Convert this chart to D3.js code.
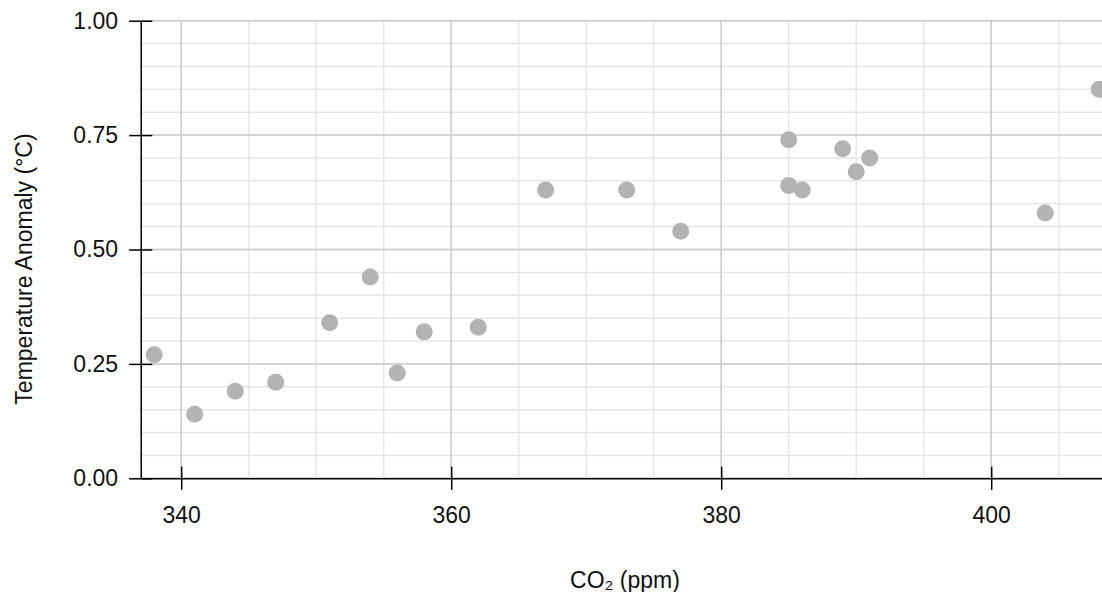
<!DOCTYPE html>
<html lang="en">
<head>
    <meta charset="UTF-8">
    <title>CO2 vs temperature anomaly</title>
    <script src="https://d3js.org/d3.v7.min.js"></script>
    <style>
        body { margin: 0; overflow: hidden; background-color: white; }
        text { font-family: "Liberation Sans", Arial, sans-serif; fill: #111; }
    </style>
</head>
<body>
    <svg id="chart"></svg>

    <script>
        // values
        const co2 = [338, 341, 344, 347, 351, 354, 356, 358, 362, 367,
                     373, 377, 385, 385, 386, 389, 390, 391, 404, 408];
        const anomaly = [0.27, 0.14, 0.19, 0.21, 0.34, 0.44, 0.23, 0.32, 0.33, 0.63,
                         0.63, 0.54, 0.74, 0.64, 0.63, 0.72, 0.67, 0.70, 0.58, 0.85];
        const xTicks = [340, 360, 380, 400];
        const yTicks = [0, 0.25, 0.5, 0.75, 1];
        const xMinor = d3.range(340, 411, 5);
        const yMinor = d3.range(0, 1.001, 0.05);

        const width = 1102;
        const height = 592;
        const plotLeft = 140.7, plotTop = 20.7, plotBottom = 478.3;
        const tick = 11.6;

        const svg = d3.select("#chart")
            .attr("width", width)
            .attr("height", height);

        const x = d3.scaleLinear().domain([337, 410]).range([plotLeft, plotLeft + 73 * 13.5]);
        const y = d3.scaleLinear().domain([0, 1]).range([plotBottom, plotTop]);

        // grid, minor first then major on top
        const grid = svg.append("g");
        grid.selectAll(".vminor")
            .data(xMinor)
            .enter()
            .append("line")
            .attr("x1", d => x(d)).attr("x2", d => x(d))
            .attr("y1", plotTop).attr("y2", plotBottom)
            .attr("stroke", "#e6e6e6")
            .attr("stroke-width", 1.5);
        grid.selectAll(".hminor")
            .data(yMinor)
            .enter()
            .append("line")
            .attr("x1", plotLeft).attr("x2", width)
            .attr("y1", d => y(d)).attr("y2", d => y(d))
            .attr("stroke", "#e6e6e6")
            .attr("stroke-width", 1.5);
        grid.selectAll(".vmajor")
            .data(xTicks)
            .enter()
            .append("line")
            .attr("x1", d => x(d)).attr("x2", d => x(d))
            .attr("y1", plotTop).attr("y2", plotBottom)
            .attr("stroke", "#cccccc")
            .attr("stroke-width", 1.5);
        grid.selectAll(".hmajor")
            .data(yTicks)
            .enter()
            .append("line")
            .attr("x1", plotLeft).attr("x2", width)
            .attr("y1", d => y(d)).attr("y2", d => y(d))
            .attr("stroke", "#cccccc")
            .attr("stroke-width", 1.5);

        // points
        svg.append("g")
            .selectAll("circle")
            .data(co2)
            .enter()
            .append("circle")
            .attr("cx", d => x(d))
            .attr("cy", (d, i) => y(anomaly[i]))
            .attr("r", 8.5)
            .attr("fill", "#b3b3b3");

        // axes, ticks cross the axis line
        const xAxis = svg.append("g")
            .attr("transform", `translate(0,${plotBottom})`)
            .call(d3.axisBottom(x).tickValues(xTicks).tickSizeInner(tick).tickSizeOuter(0).tickPadding(17));
        xAxis.selectAll(".tick line").attr("y1", -tick);

        const yAxis = svg.append("g")
            .attr("transform", `translate(${plotLeft},0)`)
            .call(d3.axisLeft(y).tickValues(yTicks).tickFormat(d3.format(".2f"))
                .tickSizeInner(tick).tickSizeOuter(0).tickPadding(11));
        yAxis.selectAll(".tick line").attr("x1", tick);

        svg.selectAll(".domain, .tick line")
            .attr("stroke", "#000")
            .attr("stroke-width", 1.5);
        svg.selectAll(".tick text")
            .attr("fill", "#111")
            .style("font-size", "23px")
            .style("font-family", "'Liberation Sans', Arial, sans-serif");

        // axis titles
        svg.append("text")
            .attr("x", 625)
            .attr("y", 588)
            .attr("text-anchor", "middle")
            .style("font-size", "23px")
            .text("CO₂ (ppm)");

        svg.append("text")
            .attr("transform", "translate(31.5,269) rotate(-90)")
            .attr("text-anchor", "middle")
            .style("font-size", "23px")
            .text("Temperature Anomaly (°C)");
    </script>
</body>
</html>
